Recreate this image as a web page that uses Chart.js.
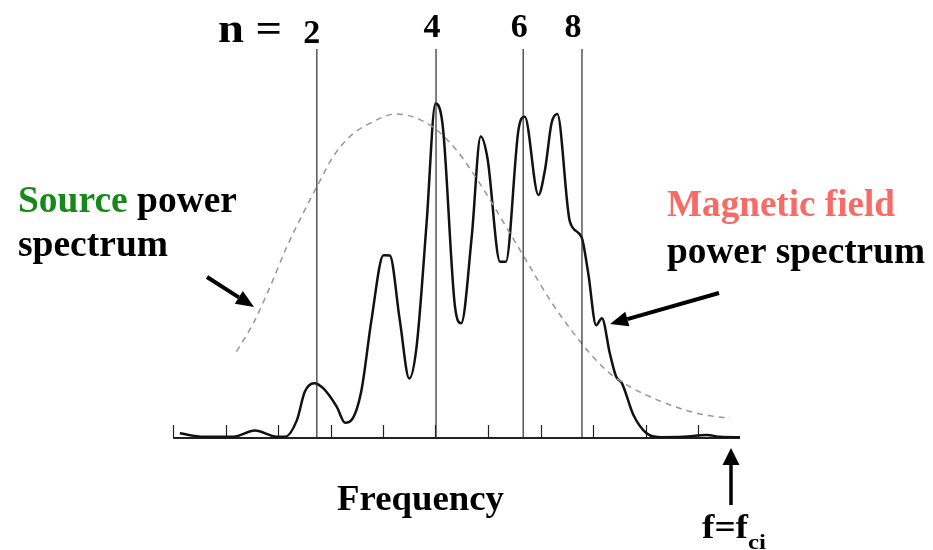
<!DOCTYPE html>
<html>
<head>
<meta charset="utf-8">
<script src="https://cdn.jsdelivr.net/npm/chart.js@4"></script>
<style>
  html, body { margin: 0; padding: 0; background: #ffffff; }
  canvas { display: block; }
</style>
</head>
<body>
<canvas id="c" width="933" height="550"></canvas>
<script>
// ---- Data (frequency in tick units, power in relative units 0..100) ----
const magFreq = [0.13,0.58,1.15,1.56,1.98,2.13,2.36,2.51,2.69,2.86,3.12,3.28,3.40,3.59,3.78,4.01,4.13,4.32,4.50,4.64,4.83,5.00,5.14,5.37,5.49,5.69,5.86,5.99,6.23,6.34,6.58,6.70,6.96,7.09,7.21,7.32,7.56,7.78,7.91,8.06,8.17,8.32,8.44,8.55,8.77,9.02,9.28,9.72,10.17,10.42,10.80];
const magPower = [1.2,0.3,0.3,1.9,0.3,0.3,4.6,11.9,14.1,12.8,8.0,3.9,4.6,12.3,30.3,47.0,46.9,30.3,15.3,23.5,55.2,86.0,80.0,33.9,29.5,51.7,77.5,71.9,45.3,45.3,79.2,82.6,62.5,69.3,80.9,83.3,55.6,51.7,42.3,29.0,30.8,21.8,15.8,14.1,5.9,1.2,0.2,0.3,0.8,0.3,0.2];

const srcFreq = [1.21,1.53,1.85,2.17,2.48,2.74,3.05,3.37,3.75,4.26,4.64,5.02,5.40,5.66,6.04,6.42,6.80,7.18,7.56,7.94,8.32,8.70,9.09,9.47,9.85,10.23,10.61];
const srcPower = [22.2,29.5,38.9,49.2,57.8,64.6,72.3,77.5,80.9,83.3,82.2,79.2,74.0,69.2,61.2,52.6,44.0,35.5,28.2,21.8,16.6,13.2,10.6,8.5,6.8,5.7,5.1];

const harmonicLabels = ['2','4','6','8'];
const harmonicFreq = [2.74,5.01,6.67,7.79];

const xTicks = [0,1,2,3,4,5,6,7,8,9,10];
const xMin = 0, xMax = 10.8, yMin = 0, yMax = 100;

// ---- Build datasets ----
const datasets = [];
harmonicFreq.forEach(f => {
  datasets.push({
    data: [{x: f, y: yMin}, {x: f, y: yMax}],
    borderColor: '#2a2a2a', borderWidth: 1.2, pointRadius: 0, tension: 0
  });
});
datasets.push({
  label: 'Source power spectrum',
  data: srcFreq.map((x, i) => ({x, y: srcPower[i]})),
  borderColor: '#979797', borderWidth: 1.5, borderDash: [6, 5],
  pointRadius: 0, tension: 0.4, cubicInterpolationMode: 'monotone'
});
datasets.push({
  label: 'Magnetic field power spectrum',
  data: magFreq.map((x, i) => ({x, y: magPower[i]})),
  borderColor: '#111111', borderWidth: 2.5, pointRadius: 0,
  cubicInterpolationMode: 'monotone',
  borderJoinStyle: 'round'
});

const SERIF = '"Liberation Serif", "Times New Roman", serif';

function drawSegs(ctx, segs, x, y, size, targetW) {
  ctx.save();
  ctx.font = 'bold ' + size + 'px ' + SERIF;
  let total = 0;
  segs.forEach(s => total += ctx.measureText(s[0]).width);
  const sx = targetW ? targetW / total : 1;
  ctx.translate(x, y);
  ctx.scale(sx, 1);
  ctx.textBaseline = 'alphabetic';
  ctx.textAlign = 'left';
  let cx = 0;
  segs.forEach(s => {
    ctx.fillStyle = s[1];
    ctx.fillText(s[0], cx, 0);
    cx += ctx.measureText(s[0]).width;
  });
  ctx.restore();
}

function arrow(ctx, x1, y1, x2, y2, lw, headLen, headW) {
  const ang = Math.atan2(y2 - y1, x2 - x1);
  const bx = x2 - headLen * Math.cos(ang), by = y2 - headLen * Math.sin(ang);
  ctx.save();
  ctx.strokeStyle = '#000'; ctx.fillStyle = '#000';
  ctx.lineWidth = lw;
  ctx.beginPath(); ctx.moveTo(x1, y1); ctx.lineTo(bx, by); ctx.stroke();
  ctx.beginPath();
  ctx.moveTo(x2, y2);
  ctx.lineTo(bx + headW / 2 * Math.sin(ang), by - headW / 2 * Math.cos(ang));
  ctx.lineTo(bx - headW / 2 * Math.sin(ang), by + headW / 2 * Math.cos(ang));
  ctx.closePath(); ctx.fill();
  ctx.restore();
}

const decor = {
  id: 'decor',
  beforeDatasetsDraw(chart) {
    const ctx = chart.ctx;
    const xs = chart.scales.x, ys = chart.scales.y;
    const y0 = ys.getPixelForValue(0);
    ctx.save();
    ctx.strokeStyle = '#222';
    ctx.lineWidth = 2;
    ctx.beginPath();
    ctx.moveTo(xs.getPixelForValue(xMin), y0);
    ctx.lineTo(xs.getPixelForValue(xMax), y0);
    ctx.stroke();
    ctx.lineWidth = 1.2;
    xTicks.forEach(t => {
      const px = Math.round(xs.getPixelForValue(t)) + 0.5;
      ctx.beginPath(); ctx.moveTo(px, y0); ctx.lineTo(px, y0 - 13); ctx.stroke();
    });
    ctx.restore();
  },
  afterDraw(chart) {
    const ctx = chart.ctx;
    const xs = chart.scales.x;
    // harmonic labels
    drawSegs(ctx, [['n =', '#000']], 218, 42, 40, 64);
    const offs = [-5, -4, -4, -9];
    const bases = [43, 37, 37, 37];
    harmonicLabels.forEach((lab, i) => {
      ctx.save();
      ctx.font = 'bold 34px ' + SERIF;
      ctx.fillStyle = '#000';
      ctx.textAlign = 'center';
      ctx.fillText(lab, xs.getPixelForValue(harmonicFreq[i]) + offs[i], bases[i]);
      ctx.restore();
    });
    // annotations
    drawSegs(ctx, [['Source', '#17891a'], [' power', '#000']], 18, 212, 38, 219);
    drawSegs(ctx, [['spectrum', '#000']], 18, 256, 38, 150);
    drawSegs(ctx, [['Magnetic field', '#f86a66']], 667, 216, 37, 228);
    drawSegs(ctx, [['power spectrum', '#000']], 667, 263, 37, 258);
    drawSegs(ctx, [['Frequency', '#000']], 337, 510, 35, 167);
    drawSegs(ctx, [['f=f', '#000']], 702, 538, 34, 46);
    drawSegs(ctx, [['ci', '#000']], 748, 549, 22, 18);
    // arrows
    arrow(ctx, 207, 277, 254, 307, 4, 18, 15);
    arrow(ctx, 719, 293, 610, 324, 4, 18, 15);
    arrow(ctx, 731, 505, 731, 448, 3.5, 17, 17);
  }
};

new Chart(document.getElementById('c'), {
  type: 'line',
  data: { datasets },
  options: {
    responsive: false,
    animation: false,
    events: [],
    layout: { padding: { left: 173, right: 193, top: 49, bottom: 112 } },
    plugins: { legend: { display: false }, tooltip: { enabled: false } },
    scales: {
      x: { type: 'linear', min: xMin, max: xMax, display: false },
      y: { type: 'linear', min: yMin, max: yMax, display: false }
    }
  },
  plugins: [decor]
});
</script>
</body>
</html>
